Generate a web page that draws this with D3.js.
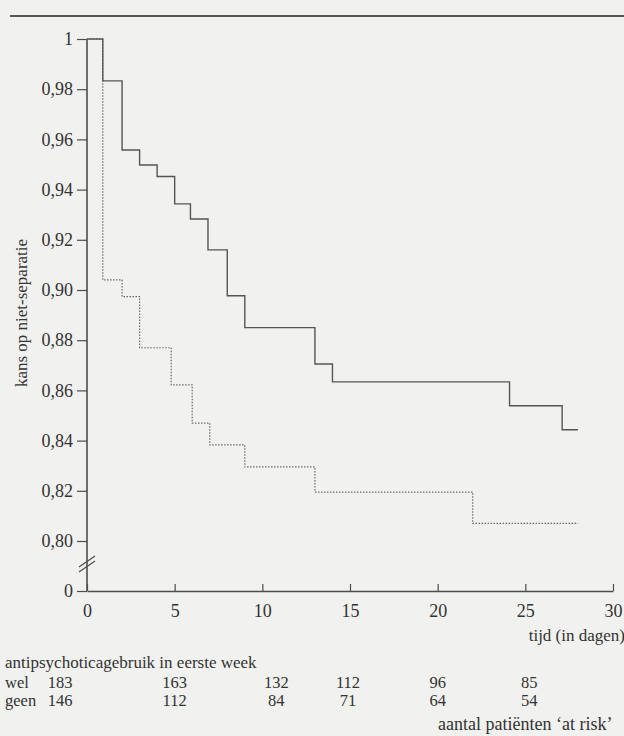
<!DOCTYPE html>
<html>
<head>
<meta charset="utf-8">
<script src="https://cdn.jsdelivr.net/npm/d3@7"></script>
<style>
body{margin:0;background:#f1f1ef;}
</style>
</head>
<body>
<script>
// Kaplan-Meier: kans op niet-separatie, per groep
var welDays = [0, 0.9, 2, 3, 4, 5, 5.9, 6.9, 8, 9, 13, 14, 24.1, 27.1, 28];
var welSurv = [1, 0.9833, 0.9558, 0.9498, 0.9452, 0.9343, 0.9283, 0.916, 0.8977, 0.885, 0.8705, 0.8634, 0.8539, 0.8443, 0.8443];
var geenDays = [0, 0.9, 2, 3, 4.8, 6, 7, 9, 13, 22, 28];
var geenSurv = [1, 0.904, 0.8974, 0.877, 0.8622, 0.847, 0.8383, 0.8295, 0.8195, 0.807, 0.807];

var yTicks = [1, 0.98, 0.96, 0.94, 0.92, 0.90, 0.88, 0.86, 0.84, 0.82, 0.80];
var xTicks = [0, 5, 10, 15, 20, 25, 30];

// at risk table
var riskDays = [0, 5, 10, 15, 20, 25];
var riskWel = [183, 163, 132, 112, 96, 85];
var riskGeen = [146, 112, 84, 71, 64, 54];

var W = 624, H = 736;
var serif = "'Liberation Serif'";
var fs = "17px";

var svg = d3.select("body").append("svg")
    .attr("width", W)
    .attr("height", H);

svg.append("rect").attr("width", W).attr("height", H).attr("fill", "#f1f1ef");

// rule at top of the page
svg.append("line")
    .attr("x1", 10).attr("x2", W)
    .attr("y1", 16).attr("y2", 16)
    .attr("stroke", "#555").attr("stroke-width", 2);

var x = d3.scaleLinear().domain([0, 30]).range([87, 613]);
var y = d3.scaleLinear().domain([0.8, 1]).range([541, 39]);
var yZero = d3.scaleLinear().domain([0, 0.8]).range([591, 566]); // broken axis part

var axisCol = "#4d4d4d";

// y axis
var gy = svg.append("g")
    .attr("transform", "translate(" + x(0) + ",0)")
    .call(d3.axisLeft(y)
        .tickValues(yTicks)
        .tickSize(10)
        .tickPadding(4)
        .tickFormat(function(d){ return d === 1 ? "1" : d3.format(".2f")(d).replace(".", ","); }));
gy.select(".domain").remove();

var gy0 = svg.append("g")
    .attr("transform", "translate(" + x(0) + ",0)")
    .call(d3.axisLeft(yZero).tickValues([0]).tickSize(10).tickPadding(4).tickFormat(d3.format("d")));
gy0.select(".domain").remove();

svg.append("line")
    .attr("x1", x(0)).attr("x2", x(0))
    .attr("y1", y(1)).attr("y2", yZero(0))
    .attr("stroke", axisCol).attr("stroke-width", 1.6);

// break marks
[0, 5].forEach(function(o){
    svg.append("line")
        .attr("x1", x(0) - 8).attr("y1", 572 - o)
        .attr("x2", x(0) + 8).attr("y2", 561 - o)
        .attr("stroke", axisCol).attr("stroke-width", 1.2);
});

// x axis
var gx = svg.append("g")
    .attr("transform", "translate(0," + yZero(0) + ")")
    .call(d3.axisBottom(x)
        .tickValues(xTicks)
        .tickSizeInner(-7)
        .tickSizeOuter(0)
        .tickPadding(13));
gx.select(".domain").attr("stroke", axisCol).attr("stroke-width", 1.6);

svg.selectAll(".tick line").attr("stroke", axisCol).attr("stroke-width", 1.2);
svg.selectAll(".tick text")
    .style("font-family", serif)
    .style("font-size", "18px")
    .attr("fill", "#333");

// curves
var line = d3.line()
    .x(function(d){ return x(d[0]); })
    .y(function(d){ return y(d[1]); })
    .curve(d3.curveStepAfter);

svg.append("path")
    .datum(d3.zip(geenDays, geenSurv))
    .attr("d", line)
    .attr("fill", "none")
    .attr("stroke", "#6a6a6a")
    .attr("stroke-width", 1.2)
    .attr("stroke-dasharray", "1.5,1.5");

svg.append("path")
    .datum(d3.zip(welDays, welSurv))
    .attr("d", line)
    .attr("fill", "none")
    .attr("stroke", "#555")
    .attr("stroke-width", 1.4);

function label(xp, yp, t, anchor) {
    return svg.append("text")
        .attr("x", xp).attr("y", yp)
        .attr("text-anchor", anchor || "start")
        .style("font-family", serif)
        .style("font-size", fs)
        .attr("fill", "#333")
        .text(t);
}

// axis titles
label(0, 0, "kans op niet-separatie", "middle")
    .attr("transform", "translate(27,313) rotate(-90)");
label(625, 641, "tijd (in dagen)", "end");

// at risk table
label(5, 668, "antipsychoticagebruik in eerste week");

var rowY = [688, 706];
var rows = [["wel", riskWel], ["geen", riskGeen]];
var colShift = [-27, 0, 14, -2, 0, 4];

rows.forEach(function(r, i){
    label(5, rowY[i], r[0]).style("font-size", "16.5px");
    svg.selectAll(null)
        .data(r[1])
        .enter().append("text")
        .attr("x", function(d, j){ return x(riskDays[j]) + colShift[j]; })
        .attr("y", rowY[i])
        .attr("text-anchor", "middle")
        .style("font-family", serif)
        .style("font-size", "16.5px")
        .attr("fill", "#333")
        .text(function(d){ return d; });
});

label(438, 730, "aantal patiënten ‘at risk’").style("font-size", "18px");
</script>
</body>
</html>
